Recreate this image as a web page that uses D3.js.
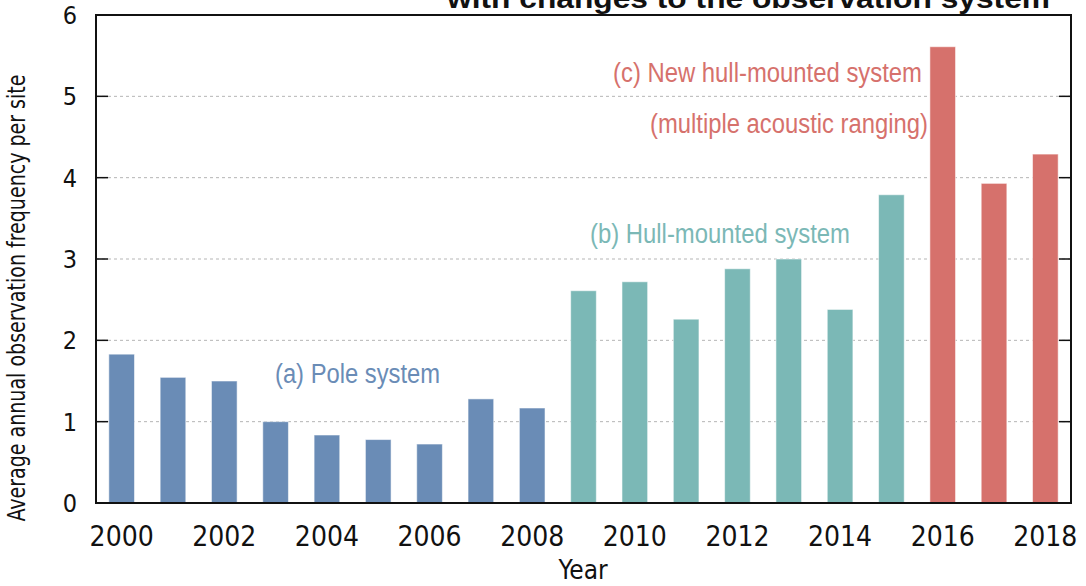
<!DOCTYPE html>
<html>
<head>
<meta charset="utf-8">
<script src="https://cdn.jsdelivr.net/npm/d3@7"></script>
<style>
  html, body { margin: 0; padding: 0; background: #fff; }
  svg { display: block; }
  .cond { font-family: "DejaVu Sans Condensed", "DejaVu Sans", sans-serif; font-stretch: condensed; }
  .note { font-family: "Liberation Sans", Arial, sans-serif; }
</style>
</head>
<body>
<svg id="chart" width="1086" height="586"></svg>
<script>
const years = d3.range(2000, 2019);
const values = [1.83, 1.545, 1.50, 1.00, 0.836, 0.78, 0.725, 1.28, 1.168,
                2.61, 2.72, 2.26, 2.88, 3.00, 2.38, 3.79,
                5.61, 3.93, 4.29];
const systems = ["a", "a", "a", "a", "a", "a", "a", "a", "a",
                 "b", "b", "b", "b", "b", "b", "b",
                 "c", "c", "c"];
const yTicks = [0, 1, 2, 3, 4, 5, 6];
const xTickYears = [2000, 2002, 2004, 2006, 2008, 2010, 2012, 2014, 2016, 2018];

const colors = { a: "#6a8cb6", b: "#7bb8b6", c: "#d6716c" };

const svg = d3.select("#chart");
const margin = { left: 96, right: 15, top: 15, bottom: 83 };
const W = 1086, H = 586;
const x0 = margin.left, x1 = W - margin.right;
const y0 = H - margin.bottom, y1 = margin.top;

const x = d3.scaleBand()
  .domain(years)
  .range([x0, x1])
  .paddingInner(0.5)
  .paddingOuter(0.25);

const y = d3.scaleLinear().domain([0, 6]).range([y0, y1]);

// title, cut off by the top edge in the original
svg.append("text")
  .attr("x", 447)
  .attr("y", 8)
  .attr("textLength", 603)
  .attr("lengthAdjust", "spacingAndGlyphs")
  .style("font-family", "'Liberation Sans', Arial, sans-serif")
  .style("font-weight", "bold")
  .style("font-size", "28px")
  .attr("fill", "#111")
  .text("with changes to the observation system");

// gridlines
svg.append("g")
  .selectAll("line")
  .data(yTicks.filter((d) => d > 0 && d < 6))
  .join("line")
  .attr("x1", x0).attr("x2", x1)
  .attr("y1", (d) => y(d)).attr("y2", (d) => y(d))
  .attr("stroke", "#b5b5b5")
  .attr("stroke-width", 1)
  .attr("stroke-dasharray", "3,3");

// bars
svg.append("g")
  .selectAll("rect")
  .data(years)
  .join("rect")
  .attr("x", (d) => x(d))
  .attr("width", x.bandwidth())
  .attr("y", (d, i) => y(values[i]))
  .attr("height", (d, i) => y0 - y(values[i]))
  .attr("fill", (d, i) => colors[systems[i]])
  .attr("stroke", "rgba(255,255,255,0.55)")
  .attr("stroke-width", 1);

// ticks on both sides, pointing inward
const tickLen = 12;
const tickG = svg.append("g").attr("stroke", "#111").attr("stroke-width", 1.5);
tickG.selectAll("line.l")
  .data(yTicks)
  .join("line")
  .attr("class", "l")
  .attr("x1", x0).attr("x2", x0 + tickLen)
  .attr("y1", (d) => y(d)).attr("y2", (d) => y(d));
tickG.selectAll("line.r")
  .data(yTicks)
  .join("line")
  .attr("class", "r")
  .attr("x1", x1 - tickLen).attr("x2", x1)
  .attr("y1", (d) => y(d)).attr("y2", (d) => y(d));

// frame
svg.append("rect")
  .attr("x", x0).attr("y", y1)
  .attr("width", x1 - x0).attr("height", y0 - y1)
  .attr("fill", "none")
  .attr("stroke", "#111")
  .attr("stroke-width", 2);

// y tick labels
svg.append("g")
  .attr("class", "cond")
  .selectAll("text")
  .data(yTicks)
  .join("text")
  .attr("x", 77)
  .attr("y", (d) => y(d) + 9)
  .attr("text-anchor", "end")
  .style("font-size", "25px")
  .attr("fill", "#111")
  .text((d) => d);

// x tick labels
svg.append("g")
  .attr("class", "cond")
  .selectAll("text")
  .data(xTickYears)
  .join("text")
  .attr("x", (d) => x(d) + x.bandwidth() / 2)
  .attr("y", 546)
  .attr("text-anchor", "middle")
  .style("font-size", "28px")
  .attr("fill", "#111")
  .text((d) => d);

// axis titles
svg.append("text")
  .attr("class", "cond")
  .attr("x", 583)
  .attr("y", 579)
  .attr("text-anchor", "middle")
  .style("font-size", "26px")
  .attr("fill", "#111")
  .text("Year");

svg.append("text")
  .attr("class", "cond")
  .attr("transform", "translate(25,298) rotate(-90)")
  .attr("text-anchor", "middle")
  .attr("textLength", 447)
  .attr("lengthAdjust", "spacingAndGlyphs")
  .style("font-size", "24px")
  .attr("fill", "#111")
  .text("Average annual observation frequency per site");

// annotations, condensed to the widths seen in the original
const notes = [
  { text: "(a) Pole system", sys: "a", x: 275, y: 383, w: 165 },
  { text: "(b) Hull-mounted system", sys: "b", x: 590, y: 243, w: 260 },
  { text: "(c) New hull-mounted system", sys: "c", x: 613, y: 82, w: 309 },
  { text: "(multiple acoustic ranging)", sys: "c", x: 650, y: 133, w: 278 }
];
svg.append("g")
  .attr("class", "note")
  .selectAll("text")
  .data(notes)
  .join("text")
  .attr("x", (d) => d.x)
  .attr("y", (d) => d.y)
  .attr("textLength", (d) => d.w)
  .attr("lengthAdjust", "spacingAndGlyphs")
  .style("font-size", "27px")
  .attr("fill", (d) => colors[d.sys])
  .text((d) => d.text);
</script>
</body>
</html>
